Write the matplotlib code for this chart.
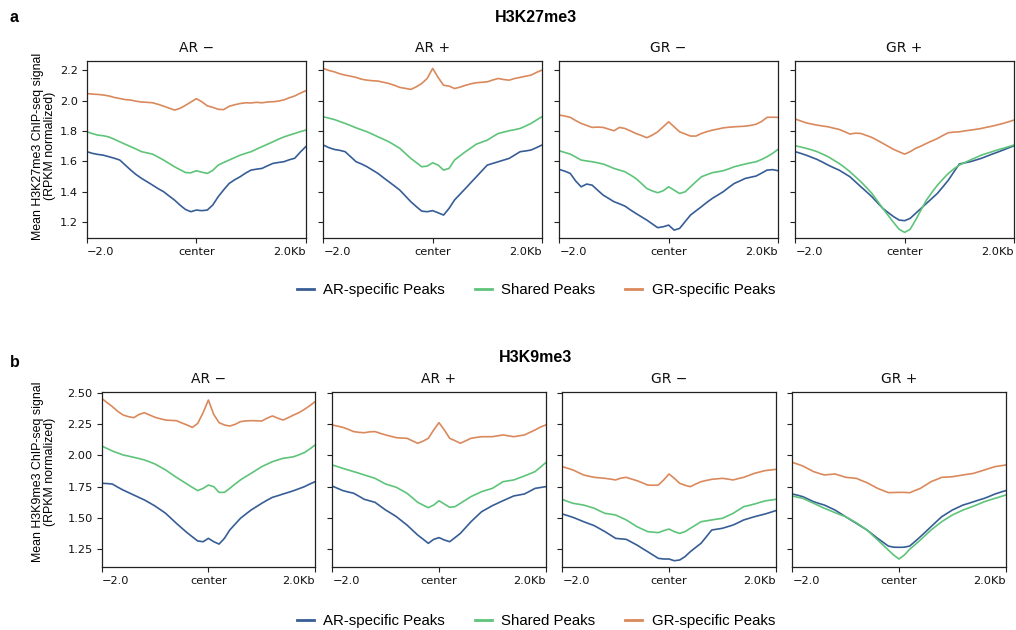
import numpy as np
import matplotlib
matplotlib.use("Agg")
import matplotlib.pyplot as plt
from matplotlib.lines import Line2D

# Bin positions relative to peak center (kb)
positions_kb = [round(-2.0 + 0.1 * i, 1) for i in range(41)]

panel_titles = ["AR \u2212", "AR +", "GR \u2212", "GR +"]
series_names = ["AR-specific Peaks", "Shared Peaks", "GR-specific Peaks"]
series_colors = ["#375D96", "#5EC47A", "#DA895C"]
xtick_labels = ["\u22122.0", "center", "2.0Kb"]

# ---------------- H3K27me3 profiles ----------------
k27_arminus_ar = [1.663, 1.652, 1.645, 1.640, 1.630, 1.620, 1.608, 1.575, 1.542, 1.512, 1.487,
                  1.465, 1.443, 1.420, 1.400, 1.372, 1.345, 1.312, 1.283, 1.268, 1.279, 1.275,
                  1.279, 1.312, 1.367, 1.412, 1.454, 1.478, 1.498, 1.522, 1.542, 1.548, 1.553,
                  1.570, 1.586, 1.592, 1.597, 1.610, 1.620, 1.660, 1.696]
k27_arminus_shared = [1.794, 1.782, 1.772, 1.768, 1.760, 1.745, 1.728, 1.712, 1.696, 1.680, 1.663,
                      1.655, 1.647, 1.628, 1.608, 1.586, 1.564, 1.545, 1.526, 1.524, 1.538, 1.528,
                      1.520, 1.540, 1.575, 1.592, 1.608, 1.624, 1.640, 1.652, 1.663, 1.680, 1.696,
                      1.712, 1.728, 1.745, 1.760, 1.772, 1.783, 1.795, 1.805]
k27_arminus_gr = [2.046, 2.042, 2.040, 2.036, 2.030, 2.020, 2.013, 2.006, 2.003, 1.995, 1.990,
                  1.988, 1.985, 1.975, 1.963, 1.950, 1.937, 1.948, 1.968, 1.990, 2.012, 1.992,
                  1.965, 1.955, 1.942, 1.940, 1.962, 1.972, 1.980, 1.985, 1.984, 1.988, 1.985,
                  1.990, 1.992, 1.996, 2.004, 2.018, 2.030, 2.048, 2.064]

k27_arplus_ar = [1.707, 1.690, 1.678, 1.672, 1.663, 1.630, 1.597, 1.582, 1.564, 1.542, 1.520,
                 1.492, 1.465, 1.438, 1.410, 1.372, 1.334, 1.302, 1.272, 1.268, 1.275, 1.261,
                 1.246, 1.290, 1.345, 1.383, 1.421, 1.460, 1.498, 1.537, 1.575, 1.586, 1.597,
                 1.608, 1.619, 1.641, 1.663, 1.668, 1.674, 1.690, 1.707]
k27_arplus_shared = [1.893, 1.884, 1.875, 1.862, 1.849, 1.835, 1.820, 1.807, 1.794, 1.778, 1.761,
                     1.745, 1.728, 1.707, 1.685, 1.652, 1.619, 1.592, 1.564, 1.568, 1.590, 1.575,
                     1.542, 1.553, 1.608, 1.636, 1.663, 1.688, 1.713, 1.726, 1.739, 1.762, 1.783,
                     1.792, 1.801, 1.808, 1.816, 1.832, 1.849, 1.872, 1.893]
k27_arplus_gr = [2.211, 2.198, 2.189, 2.176, 2.167, 2.160, 2.152, 2.140, 2.134, 2.130, 2.128,
                 2.120, 2.112, 2.100, 2.086, 2.080, 2.073, 2.090, 2.112, 2.145, 2.211, 2.152,
                 2.100, 2.095, 2.079, 2.088, 2.100, 2.110, 2.117, 2.120, 2.123, 2.135, 2.145,
                 2.138, 2.134, 2.145, 2.152, 2.160, 2.167, 2.185, 2.200]

k27_grminus_ar = [1.546, 1.535, 1.520, 1.470, 1.432, 1.450, 1.443, 1.410, 1.378, 1.356, 1.334,
                  1.320, 1.305, 1.280, 1.257, 1.235, 1.213, 1.188, 1.163, 1.169, 1.180, 1.147,
                  1.158, 1.202, 1.246, 1.274, 1.301, 1.330, 1.356, 1.378, 1.400, 1.428, 1.454,
                  1.470, 1.487, 1.495, 1.503, 1.522, 1.542, 1.545, 1.538]
k27_grminus_shared = [1.669, 1.658, 1.647, 1.628, 1.608, 1.602, 1.597, 1.590, 1.582, 1.568, 1.553,
                      1.542, 1.531, 1.510, 1.487, 1.455, 1.421, 1.405, 1.393, 1.406, 1.432, 1.410,
                      1.388, 1.399, 1.432, 1.466, 1.498, 1.512, 1.525, 1.531, 1.538, 1.550, 1.564,
                      1.573, 1.582, 1.590, 1.597, 1.612, 1.630, 1.652, 1.678]
k27_grminus_gr = [1.904, 1.898, 1.889, 1.868, 1.849, 1.836, 1.823, 1.825, 1.823, 1.812, 1.801,
                  1.823, 1.816, 1.800, 1.783, 1.770, 1.755, 1.772, 1.794, 1.827, 1.860, 1.827,
                  1.794, 1.780, 1.766, 1.766, 1.783, 1.795, 1.805, 1.812, 1.820, 1.824, 1.827,
                  1.829, 1.831, 1.836, 1.844, 1.862, 1.889, 1.890, 1.889]

k27_grplus_ar = [1.663, 1.652, 1.640, 1.626, 1.612, 1.594, 1.575, 1.558, 1.542, 1.520, 1.498,
                 1.465, 1.432, 1.400, 1.367, 1.328, 1.290, 1.262, 1.235, 1.213, 1.209, 1.224,
                 1.257, 1.290, 1.323, 1.356, 1.389, 1.432, 1.476, 1.530, 1.582, 1.590, 1.597,
                 1.608, 1.619, 1.633, 1.647, 1.660, 1.674, 1.688, 1.702]
k27_grplus_shared = [1.702, 1.694, 1.685, 1.675, 1.663, 1.647, 1.630, 1.608, 1.586, 1.560, 1.531,
                     1.498, 1.465, 1.428, 1.389, 1.340, 1.290, 1.243, 1.196, 1.152, 1.132, 1.152,
                     1.213, 1.280, 1.345, 1.396, 1.443, 1.483, 1.520, 1.550, 1.575, 1.592, 1.608,
                     1.624, 1.640, 1.652, 1.663, 1.675, 1.685, 1.696, 1.707]
k27_grplus_gr = [1.878, 1.865, 1.853, 1.845, 1.838, 1.832, 1.827, 1.818, 1.810, 1.795, 1.779,
                 1.785, 1.783, 1.770, 1.757, 1.738, 1.718, 1.698, 1.678, 1.662, 1.647, 1.663,
                 1.685, 1.700, 1.718, 1.734, 1.750, 1.770, 1.788, 1.792, 1.794, 1.800, 1.805,
                 1.810, 1.816, 1.824, 1.831, 1.840, 1.849, 1.860, 1.871]

# ---------------- H3K9me3 profiles ----------------
k9_arminus_ar = [1.776, 1.774, 1.770, 1.745, 1.722, 1.702, 1.682, 1.662, 1.642, 1.618, 1.593,
                 1.564, 1.534, 1.494, 1.454, 1.416, 1.379, 1.345, 1.312, 1.306, 1.333, 1.306,
                 1.287, 1.333, 1.400, 1.447, 1.494, 1.528, 1.561, 1.588, 1.615, 1.640, 1.663,
                 1.676, 1.690, 1.703, 1.717, 1.733, 1.749, 1.770, 1.789]
k9_arminus_shared = [2.076, 2.056, 2.036, 2.020, 2.004, 1.995, 1.985, 1.975, 1.964, 1.948, 1.931,
                     1.907, 1.883, 1.853, 1.824, 1.797, 1.770, 1.743, 1.717, 1.735, 1.762, 1.749,
                     1.703, 1.703, 1.735, 1.770, 1.803, 1.830, 1.856, 1.883, 1.910, 1.930, 1.950,
                     1.964, 1.977, 1.983, 1.990, 2.006, 2.023, 2.052, 2.084]
k9_arminus_gr = [2.460, 2.425, 2.393, 2.355, 2.326, 2.312, 2.304, 2.330, 2.344, 2.325, 2.307,
                 2.295, 2.285, 2.282, 2.280, 2.262, 2.245, 2.226, 2.258, 2.344, 2.446, 2.330,
                 2.264, 2.245, 2.237, 2.250, 2.272, 2.278, 2.280, 2.279, 2.277, 2.300, 2.318,
                 2.300, 2.285, 2.305, 2.326, 2.345, 2.371, 2.400, 2.433]

k9_arplus_ar = [1.754, 1.735, 1.717, 1.706, 1.696, 1.672, 1.647, 1.635, 1.623, 1.592, 1.561,
                1.535, 1.508, 1.474, 1.440, 1.400, 1.360, 1.327, 1.293, 1.325, 1.339, 1.320,
                1.306, 1.339, 1.373, 1.420, 1.467, 1.508, 1.548, 1.572, 1.596, 1.616, 1.636,
                1.655, 1.674, 1.682, 1.690, 1.712, 1.735, 1.742, 1.749]
k9_arplus_shared = [1.923, 1.910, 1.896, 1.883, 1.870, 1.857, 1.843, 1.830, 1.816, 1.793, 1.770,
                    1.757, 1.744, 1.720, 1.696, 1.660, 1.623, 1.601, 1.580, 1.601, 1.636, 1.609,
                    1.583, 1.588, 1.615, 1.642, 1.669, 1.689, 1.709, 1.722, 1.735, 1.762, 1.789,
                    1.796, 1.803, 1.819, 1.835, 1.852, 1.870, 1.905, 1.942]
k9_arplus_gr = [2.245, 2.236, 2.226, 2.210, 2.192, 2.186, 2.183, 2.190, 2.192, 2.178, 2.165,
                2.154, 2.143, 2.140, 2.138, 2.118, 2.098, 2.115, 2.138, 2.205, 2.264, 2.205,
                2.138, 2.119, 2.098, 2.118, 2.138, 2.145, 2.151, 2.151, 2.151, 2.158, 2.165,
                2.158, 2.151, 2.158, 2.165, 2.185, 2.205, 2.228, 2.245]

k9_grminus_ar = [1.529, 1.516, 1.502, 1.485, 1.467, 1.451, 1.435, 1.411, 1.387, 1.360, 1.333,
                 1.329, 1.325, 1.302, 1.279, 1.252, 1.226, 1.199, 1.172, 1.167, 1.167, 1.153,
                 1.159, 1.186, 1.226, 1.260, 1.293, 1.346, 1.400, 1.407, 1.414, 1.427, 1.440,
                 1.460, 1.481, 1.494, 1.507, 1.518, 1.529, 1.542, 1.556]
k9_grminus_shared = [1.647, 1.630, 1.615, 1.608, 1.601, 1.588, 1.575, 1.554, 1.534, 1.528, 1.521,
                     1.501, 1.481, 1.454, 1.427, 1.407, 1.387, 1.383, 1.379, 1.395, 1.408, 1.387,
                     1.373, 1.387, 1.414, 1.440, 1.467, 1.474, 1.481, 1.488, 1.494, 1.514, 1.534,
                     1.561, 1.588, 1.598, 1.609, 1.622, 1.634, 1.641, 1.647]
k9_grminus_gr = [1.910, 1.897, 1.883, 1.863, 1.843, 1.833, 1.824, 1.820, 1.816, 1.810, 1.803,
                 1.818, 1.824, 1.810, 1.797, 1.780, 1.762, 1.760, 1.762, 1.803, 1.851, 1.816,
                 1.776, 1.760, 1.749, 1.770, 1.789, 1.799, 1.808, 1.812, 1.816, 1.810, 1.803,
                 1.814, 1.824, 1.840, 1.856, 1.867, 1.878, 1.883, 1.888]

k9_grplus_ar = [1.690, 1.680, 1.668, 1.648, 1.628, 1.614, 1.601, 1.581, 1.561, 1.534, 1.507,
                1.480, 1.454, 1.427, 1.400, 1.367, 1.333, 1.302, 1.271, 1.262, 1.261, 1.262,
                1.271, 1.308, 1.346, 1.386, 1.427, 1.467, 1.507, 1.534, 1.561, 1.581, 1.601,
                1.614, 1.628, 1.642, 1.655, 1.672, 1.690, 1.704, 1.717]
k9_grplus_shared = [1.674, 1.664, 1.655, 1.635, 1.615, 1.595, 1.575, 1.558, 1.540, 1.523, 1.507,
                    1.483, 1.459, 1.430, 1.400, 1.360, 1.320, 1.280, 1.239, 1.199, 1.167, 1.199,
                    1.245, 1.282, 1.320, 1.360, 1.400, 1.434, 1.467, 1.494, 1.521, 1.541, 1.561,
                    1.577, 1.593, 1.610, 1.628, 1.642, 1.655, 1.668, 1.682]
k9_grplus_gr = [1.945, 1.930, 1.915, 1.892, 1.870, 1.856, 1.843, 1.847, 1.851, 1.838, 1.824,
                1.820, 1.816, 1.798, 1.781, 1.758, 1.735, 1.718, 1.701, 1.702, 1.703, 1.703,
                1.700, 1.718, 1.735, 1.762, 1.789, 1.806, 1.824, 1.826, 1.829, 1.836, 1.843,
                1.850, 1.856, 1.870, 1.883, 1.897, 1.910, 1.917, 1.923]

k27_panels = [
    (k27_arminus_ar, k27_arminus_shared, k27_arminus_gr),
    (k27_arplus_ar, k27_arplus_shared, k27_arplus_gr),
    (k27_grminus_ar, k27_grminus_shared, k27_grminus_gr),
    (k27_grplus_ar, k27_grplus_shared, k27_grplus_gr),
]
k9_panels = [
    (k9_arminus_ar, k9_arminus_shared, k9_arminus_gr),
    (k9_arplus_ar, k9_arplus_shared, k9_arplus_gr),
    (k9_grminus_ar, k9_grminus_shared, k9_grminus_gr),
    (k9_grplus_ar, k9_grplus_shared, k9_grplus_gr),
]

k27_yticks = [1.2, 1.4, 1.6, 1.8, 2.0, 2.2]
k9_yticks = [1.25, 1.50, 1.75, 2.00, 2.25, 2.50]

W, H = 1016, 630
fig = plt.figure(figsize=(W / 100, H / 100), dpi=100)

SANS = ["Liberation Sans", "DejaVu Sans"]
TICK_FS = 8.2
SPINE = "#222222"


def px_axes(left, top, width, height):
    return fig.add_axes([left / W, 1 - (top + height) / H, width / W, height / H])


def draw_row(panels, lefts, top, width, height, ylim, yticks, yfmt):
    axes = []
    for i, (data, left) in enumerate(zip(panels, lefts)):
        ax = px_axes(left, top, width, height)
        for vals, color in zip(data, series_colors):
            ax.plot(positions_kb, vals, color=color, lw=1.2, solid_joinstyle="round")
        ax.set_xlim(positions_kb[0], positions_kb[-1])
        ax.set_ylim(*ylim)
        ax.set_xticks([positions_kb[0], 0.0, positions_kb[-1]])
        ax.set_xticklabels(xtick_labels)
        xlabels = ax.get_xticklabels()
        xlabels[0].set_horizontalalignment("left")
        xlabels[-1].set_horizontalalignment("right")
        ax.set_yticks(yticks)
        if i == 0:
            ax.set_yticklabels([yfmt.format(v) for v in yticks])
        else:
            ax.set_yticklabels([])
        ax.tick_params(direction="out", length=3.5, width=0.8, pad=3,
                       labelsize=TICK_FS, color=SPINE, labelcolor="#111111")
        for s in ax.spines.values():
            s.set_color(SPINE)
            s.set_linewidth(0.9)
        ax.set_title(panel_titles[i], fontsize=10, pad=6, color="#111111")
        axes.append(ax)
    return axes


# Top block: H3K27me3
top_axes = draw_row(k27_panels, [87, 323.3, 559.3, 795.3], 60.7, 218.7, 177.3,
                    (1.095, 2.262), k27_yticks, "{:.1f}")
# Bottom block: H3K9me3
bot_axes = draw_row(k9_panels, [101.7, 332.3, 562.3, 792.3], 391.7, 213.4, 175.0,
                    (1.105, 2.513), k9_yticks, "{:.2f}")

# Block titles and panel letters
fig.text(536 / W, 1 - 17 / H, "H3K27me3", ha="center", va="center",
         fontsize=11.5, fontweight="bold", family=SANS)
fig.text(536 / W, 1 - 358 / H, "H3K9me3", ha="center", va="center",
         fontsize=11.5, fontweight="bold", family=SANS)
fig.text(10 / W, 1 - 18 / H, "a", ha="left", va="center",
         fontsize=11.5, fontweight="bold", family=SANS)
fig.text(10 / W, 1 - 363 / H, "b", ha="left", va="center",
         fontsize=11.5, fontweight="bold", family=SANS)

# Y-axis labels
fig.text(44 / W, 1 - 146 / H, "Mean H3K27me3 ChIP-seq signal\n(RPKM normalized)",
         rotation=90, ha="center", va="center", multialignment="center",
         fontsize=8.9, family=SANS, linespacing=1.05)
fig.text(44 / W, 1 - 472 / H, "Mean H3K9me3 ChIP-seq signal\n(RPKM normalized)",
         rotation=90, ha="center", va="center", multialignment="center",
         fontsize=8.9, family=SANS, linespacing=1.05)

# Legends
handles = [Line2D([], [], color=c, lw=2.0) for c in series_colors]
for ycen in (290, 621):
    fig.legend(handles, series_names, loc="center", bbox_to_anchor=(536 / W, 1 - ycen / H),
               ncol=3, frameon=False, prop={"family": SANS, "size": 10.8},
               handlelength=1.1, handletextpad=0.65, columnspacing=2.0,
               borderaxespad=0, borderpad=0)

fig.savefig("out.png", dpi=100)
